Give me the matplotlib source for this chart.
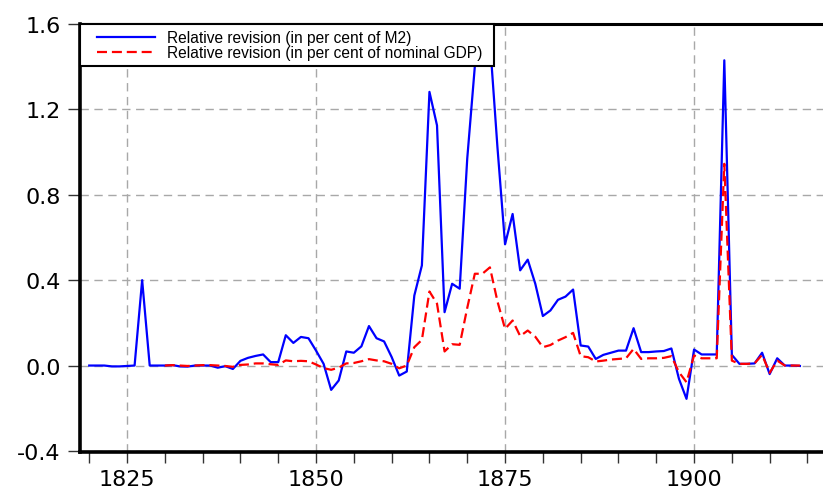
import numpy as np
import matplotlib
matplotlib.use("Agg")
import matplotlib.pyplot as plt
from matplotlib.ticker import MultipleLocator, FixedLocator
from matplotlib.legend_handler import HandlerLine2D

years_m2 = list(range(1820, 1915))
rel_m2 = [
    0.0, 0.0, 0.0, -0.004, -0.004, -0.002, 0.0, 0.40, 0.0, 0.0,          # 1820-1829
    0.0, 0.002, -0.004, -0.005, 0.0, 0.0, 0.0, -0.01, -0.003, -0.016,    # 1830-1839
    0.022, 0.036, 0.045, 0.052, 0.016, 0.016, 0.142, 0.106, 0.134, 0.128,  # 1840-1849
    0.07, 0.008, -0.114, -0.07, 0.066, 0.06, 0.09, 0.185, 0.128, 0.113,  # 1850-1859
    0.04, -0.047, -0.028, 0.328, 0.469, 1.282, 1.125, 0.25, 0.383, 0.36,  # 1860-1869
    0.97, 1.40, 1.52, 1.52, 1.02, 0.568, 0.71, 0.446, 0.496, 0.383,      # 1870-1879
    0.232, 0.258, 0.308, 0.323, 0.356, 0.094, 0.089, 0.031, 0.05, 0.06,  # 1880-1889
    0.07, 0.07, 0.175, 0.063, 0.063, 0.066, 0.068, 0.08, -0.062, -0.156, # 1890-1899
    0.075, 0.052, 0.052, 0.052, 1.43, 0.05, 0.008, 0.008, 0.01, 0.06,    # 1900-1909
    -0.04, 0.034, 0.0, 0.0, -0.002,                                      # 1910-1914
]

years_gdp = list(range(1830, 1915))
rel_gdp = [
    0.0, 0.002, 0.0, -0.002, 0.0, 0.002, 0.002, 0.0, -0.002, -0.006,     # 1830-1839
    0.003, 0.005, 0.01, 0.01, 0.006, 0.003, 0.024, 0.02, 0.022, 0.02,    # 1840-1849
    0.005, -0.012, -0.02, -0.01, 0.01, 0.012, 0.02, 0.03, 0.024, 0.02,   # 1850-1859
    0.008, -0.013, 0.0, 0.086, 0.12, 0.347, 0.29, 0.066, 0.1, 0.097,     # 1860-1869
    0.27, 0.43, 0.43, 0.46, 0.30, 0.172, 0.211, 0.138, 0.164, 0.135,     # 1870-1879
    0.086, 0.096, 0.117, 0.133, 0.153, 0.044, 0.039, 0.019, 0.023, 0.028,  # 1880-1889
    0.031, 0.034, 0.078, 0.031, 0.034, 0.034, 0.036, 0.044, -0.031, -0.078,  # 1890-1899
    0.047, 0.034, 0.034, 0.034, 0.945, 0.023, 0.008, 0.008, 0.01, 0.05,  # 1900-1909
    -0.034, 0.023, 0.0, 0.0, 0.0,                                        # 1910-1914
]

label_m2 = "Relative revision (in per cent of M2)"
label_gdp = "Relative revision (in per cent of nominal GDP)"
x_major = [1825, 1850, 1875, 1900]
y_ticks = [-0.4, 0.0, 0.4, 0.8, 1.2, 1.6]

W, H = 823, 489
AX_W = 750
fig = plt.figure(figsize=(W / 100, H / 100), dpi=100)
ax = fig.add_axes([80 / W, 36 / H, AX_W / W, 428 / H])

l1, = ax.plot(years_m2, rel_m2, color="#0000ff", lw=1.6, label=label_m2, zorder=3)
l2, = ax.plot(years_gdp, rel_gdp, color="#ff0000", lw=1.6, ls=(0, (4.5, 2.2)), label=label_gdp, zorder=4)

ax.set_xlim(1818.78, 1917.98)
ax.set_ylim(-0.405, 1.6)

ax.xaxis.set_major_locator(FixedLocator(x_major))
ax.xaxis.set_minor_locator(MultipleLocator(5))
ax.set_yticks(y_ticks)
ax.set_yticklabels([f"{v:.1f}" for v in y_ticks])
ax.set_xticklabels([str(v) for v in x_major])

for lab in ax.get_xticklabels() + ax.get_yticklabels():
    lab.set_fontfamily("DejaVu Sans")
    lab.set_fontsize(16)

ax.tick_params(axis="y", which="major", direction="out", length=9, width=1, pad=5, color="#333333")
ax.tick_params(axis="x", which="both", direction="out", length=8, width=1, pad=4, color="#333333")

ax.grid(True, which="major", axis="both", color="#a8a8a8", ls=(0, (6, 4)), lw=1.0)
ax.set_axisbelow(True)

ax.spines["right"].set_visible(False)
ax.spines["left"].set_linewidth(2.6)
ax.spines["bottom"].set_linewidth(2.6)
ax.spines["top"].set_linewidth(2.2)
for s in ax.spines.values():
    s.set_color("black")

fs = 11.2
hmap = {l1: HandlerLine2D(xpad=0.7), l2: HandlerLine2D(xpad=0.7)}
leg = ax.legend(handles=[l1, l2], loc="upper left",
                bbox_to_anchor=(0, 0, 414 / AX_W, 1), mode="expand", borderaxespad=0,
                prop=dict(family="Liberation Sans", size=fs),
                frameon=True, fancybox=False, edgecolor="black",
                framealpha=1, borderpad=0.4, labelspacing=0.0,
                handlelength=4.4, handletextpad=0.8, handler_map=hmap)
leg.get_frame().set_linewidth(1.5)
leg.set_zorder(10)

fig.savefig("out.png", dpi=100)
